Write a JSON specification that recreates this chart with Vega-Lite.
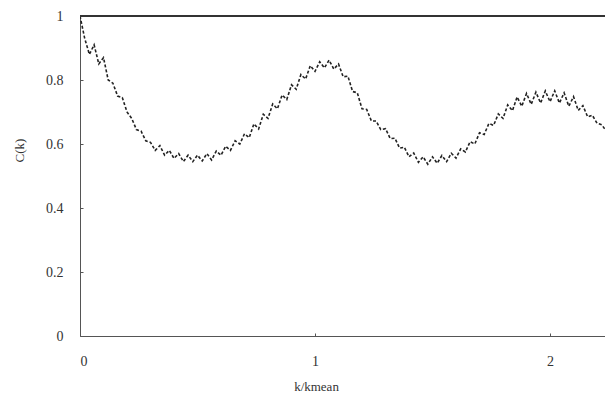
{
  "$schema": "https://vega.github.io/schema/vega-lite/v6.json",
  "width": 525,
  "height": 320,
  "autosize": {"type": "none"},
  "padding": {"left": 80, "top": 16, "right": 0, "bottom": 66},
  "background": "white",
  "config": {
    "view": {"stroke": null},
    "font": "Liberation Serif",
    "axis": {"grid": false, "labelFont": "Liberation Serif", "titleFont": "Liberation Serif", "labelFontSize": 14, "titleFontSize": 13, "titleFontWeight": "normal", "labelColor": "#333", "titleColor": "#333", "domainColor": "#555", "tickColor": "#555"}
  },
  "data": {"values": [
    {"k":0.00,"c":1.00},{"k":0.02,"c":0.93},{"k":0.04,"c":0.88},{"k":0.06,"c":0.91},{"k":0.08,"c":0.85},
    {"k":0.10,"c":0.87},{"k":0.12,"c":0.80},{"k":0.14,"c":0.79},{"k":0.16,"c":0.75},{"k":0.18,"c":0.745},
    {"k":0.20,"c":0.70},{"k":0.22,"c":0.68},{"k":0.24,"c":0.645},{"k":0.26,"c":0.64},{"k":0.28,"c":0.61},
    {"k":0.30,"c":0.605},{"k":0.32,"c":0.58},{"k":0.34,"c":0.595},{"k":0.36,"c":0.565},{"k":0.38,"c":0.58},
    {"k":0.40,"c":0.555},{"k":0.42,"c":0.57},{"k":0.44,"c":0.545},{"k":0.46,"c":0.565},{"k":0.48,"c":0.545},
    {"k":0.50,"c":0.565},{"k":0.52,"c":0.547},{"k":0.54,"c":0.57},{"k":0.56,"c":0.55},{"k":0.58,"c":0.578},
    {"k":0.60,"c":0.565},{"k":0.62,"c":0.593},{"k":0.64,"c":0.58},{"k":0.66,"c":0.61},{"k":0.68,"c":0.60},
    {"k":0.70,"c":0.632},{"k":0.72,"c":0.62},{"k":0.74,"c":0.663},{"k":0.76,"c":0.647},{"k":0.78,"c":0.693},
    {"k":0.80,"c":0.68},{"k":0.82,"c":0.725},{"k":0.84,"c":0.71},{"k":0.86,"c":0.753},{"k":0.88,"c":0.739},
    {"k":0.90,"c":0.785},{"k":0.92,"c":0.771},{"k":0.94,"c":0.817},{"k":0.96,"c":0.803},{"k":0.98,"c":0.845},
    {"k":1.00,"c":0.827},{"k":1.02,"c":0.857},{"k":1.04,"c":0.838},{"k":1.06,"c":0.862},{"k":1.08,"c":0.834},
    {"k":1.10,"c":0.85},{"k":1.12,"c":0.81},{"k":1.14,"c":0.812},{"k":1.16,"c":0.764},{"k":1.18,"c":0.76},
    {"k":1.20,"c":0.71},{"k":1.22,"c":0.708},{"k":1.24,"c":0.672},{"k":1.26,"c":0.672},{"k":1.28,"c":0.645},
    {"k":1.30,"c":0.648},{"k":1.32,"c":0.617},{"k":1.34,"c":0.618},{"k":1.36,"c":0.587},{"k":1.38,"c":0.59},
    {"k":1.40,"c":0.56},{"k":1.42,"c":0.572},{"k":1.44,"c":0.543},{"k":1.46,"c":0.56},{"k":1.48,"c":0.537},
    {"k":1.50,"c":0.56},{"k":1.52,"c":0.54},{"k":1.54,"c":0.564},{"k":1.56,"c":0.545},{"k":1.58,"c":0.571},
    {"k":1.60,"c":0.556},{"k":1.62,"c":0.585},{"k":1.64,"c":0.575},{"k":1.66,"c":0.607},{"k":1.68,"c":0.60},
    {"k":1.70,"c":0.635},{"k":1.72,"c":0.63},{"k":1.74,"c":0.664},{"k":1.76,"c":0.658},{"k":1.78,"c":0.694},
    {"k":1.80,"c":0.68},{"k":1.82,"c":0.722},{"k":1.84,"c":0.704},{"k":1.86,"c":0.747},{"k":1.88,"c":0.718},
    {"k":1.90,"c":0.758},{"k":1.92,"c":0.724},{"k":1.94,"c":0.762},{"k":1.96,"c":0.728},{"k":1.98,"c":0.766},
    {"k":2.00,"c":0.732},{"k":2.02,"c":0.766},{"k":2.04,"c":0.728},{"k":2.06,"c":0.76},{"k":2.08,"c":0.718},
    {"k":2.10,"c":0.748},{"k":2.12,"c":0.705},{"k":2.14,"c":0.72},{"k":2.16,"c":0.685},{"k":2.18,"c":0.69},
    {"k":2.20,"c":0.665},{"k":2.22,"c":0.66},{"k":2.24,"c":0.64}
  ]},
  "layer": [
    {
      "mark": {"type": "line", "color": "#222", "strokeWidth": 1.6, "strokeDash": [3, 2], "clip": true},
      "encoding": {
        "x": {"field": "k", "type": "quantitative", "scale": {"domain": [0, 2.234], "nice": false},
          "axis": {"values": [0, 1, 2], "format": "~g", "title": "k/kmean", "tickSize": -3, "labelPadding": 21, "titleX": 236, "titleY": 50, "titleBaseline": "middle"}},
        "y": {"field": "c", "type": "quantitative", "scale": {"domain": [0, 1], "nice": false},
          "axis": {"values": [0, 0.2, 0.4, 0.6, 0.8, 1], "format": "~g", "title": "C(k)", "tickSize": -3, "labelPadding": 20, "titleX": -61, "titleY": 134, "titleBaseline": "middle"}}
      }
    },
    {
      "mark": {"type": "rule", "color": "#333", "strokeWidth": 1.8},
      "encoding": {"y": {"datum": 1}}
    }
  ]
}
